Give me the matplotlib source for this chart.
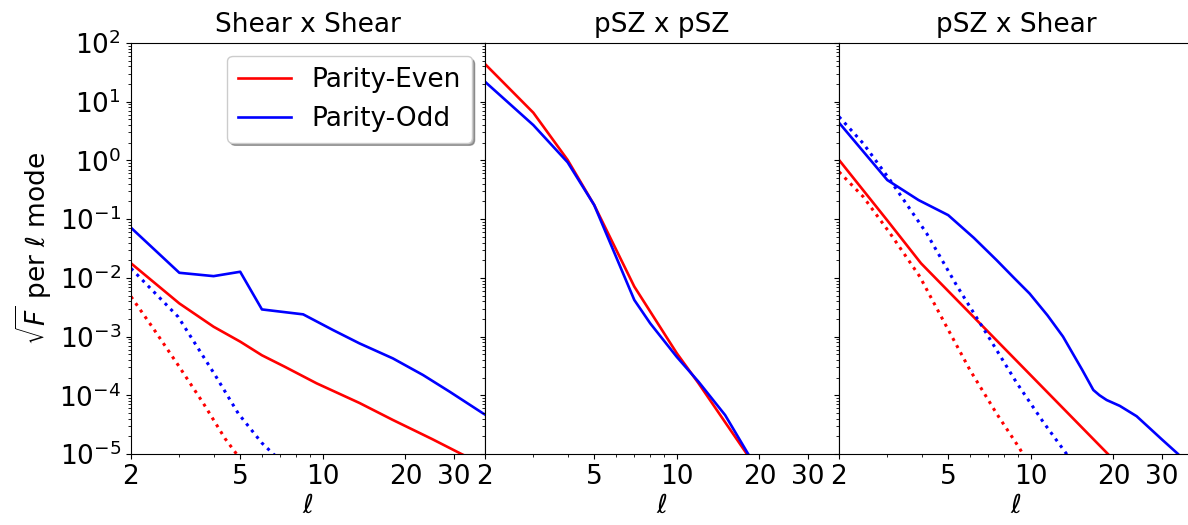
import matplotlib
matplotlib.use("Agg")
import matplotlib.pyplot as plt
from matplotlib.ticker import NullFormatter, FixedLocator, FixedFormatter, LogLocator
import numpy as np

# ---------------- data ----------------
titles = ["Shear x Shear", "pSZ x pSZ", "pSZ x Shear"]
xticks = [2, 5, 10, 20, 30]
xtick_labels = ["2", "5", "10", "20", "30"]

# Panel 1: Shear x Shear
ss_even_l = [2, 3, 4, 5, 6, 7.27, 9.49, 13.6, 18, 25, 32, 40]
ss_even_v = [0.0177, 3.67e-3, 1.47e-3, 8.2e-4, 4.8e-4, 3.06e-4, 1.6e-4, 7.4e-5, 3.8e-5, 1.8e-5, 1.0e-5, 6.0e-6]
ss_odd_l = [2, 3, 4, 5, 6, 8.48, 10.9, 13.6, 18, 23.2, 29, 38.4, 40]
ss_odd_v = [0.0714, 0.0122, 0.0107, 0.0127, 2.9e-3, 2.39e-3, 1.29e-3, 7.66e-4, 4.25e-4, 2.21e-4, 1.15e-4, 4.9e-5, 4.4e-5]
ss_even_dot_l = [2, 2.41, 2.97, 3.67, 4.4, 4.85, 5.2]
ss_even_dot_v = [4.8e-3, 1.38e-3, 3.27e-4, 7.3e-5, 1.84e-5, 1.0e-5, 6.0e-6]
ss_odd_dot_l = [2, 2.97, 4.05, 4.92, 5.99, 6.6, 7.0]
ss_odd_dot_v = [0.0145, 2.17e-3, 2.21e-4, 4.9e-5, 1.55e-5, 1.0e-5, 8.0e-6]

# Panel 2: pSZ x pSZ
pp_even_l = [2, 3, 4, 5, 7, 10, 12, 18, 19]
pp_even_v = [43.9, 6.5, 1.02, 0.174, 7.1e-3, 5.2e-4, 1.6e-4, 1.0e-5, 7.0e-6]
pp_odd_l = [2, 3, 4, 5, 7, 8, 10, 12, 15, 18.2, 19]
pp_odd_v = [21.9, 4.0, 0.93, 0.174, 4.2e-3, 1.68e-3, 4.5e-4, 1.7e-4, 4.6e-5, 1.0e-5, 7.5e-6]

# Panel 3: pSZ x Shear
ps_even_l = [2, 3, 3.98, 19.1, 21]
ps_even_v = [1.02, 0.095, 0.0177, 1.0e-5, 6.3e-6]
ps_odd_l = [2, 3, 3.9, 5, 6.2, 7.5, 8.7, 9.9, 11.5, 13.1, 15.4, 16.9, 17.8, 18.9, 21.1, 24.3, 27, 30, 34.4, 37]
ps_odd_v = [4.39, 0.463, 0.211, 0.117, 0.048, 0.0201, 9.9e-3, 5.4e-3, 2.3e-3, 1.0e-3, 2.7e-4, 1.23e-4, 1.0e-4, 8.3e-5, 6.6e-5, 4.4e-5, 2.8e-5, 1.78e-5, 1.0e-5, 6.8e-6]
ps_even_dot_l = [2, 2.45, 3.07, 3.94, 4.93, 6.0, 7.5, 9.1, 9.6]
ps_even_dot_v = [0.64, 0.241, 0.0573, 0.0105, 1.48e-3, 2.7e-4, 4.9e-5, 1.25e-5, 8.0e-6]
ps_odd_dot_l = [2, 2.45, 3.07, 4.17, 5.37, 6.9, 8.86, 11.1, 13.3, 14.0]
ps_odd_dot_v = [5.56, 1.95, 0.463, 0.0575, 7.4e-3, 1.12e-3, 1.66e-4, 3.5e-5, 1.1e-5, 8.0e-6]

# ---------------- figure ----------------
plt.rcParams['font.family'] = ['DejaVu Sans']
FS = 19
W, H = 1188, 525
fig = plt.figure(figsize=(W / 100, H / 100), dpi=100)

left0, axw = 131, 354
bottom_px, top_px = 454, 43
axes = []
for i in range(3):
    x0 = left0 + i * axw
    ax = fig.add_axes([x0 / W, (H - bottom_px) / H, axw / W, (bottom_px - top_px) / H])
    axes.append(ax)

panels = [
    (ss_even_l, ss_even_v, ss_odd_l, ss_odd_v, ss_even_dot_l, ss_even_dot_v, ss_odd_dot_l, ss_odd_dot_v),
    (pp_even_l, pp_even_v, pp_odd_l, pp_odd_v, None, None, None, None),
    (ps_even_l, ps_even_v, ps_odd_l, ps_odd_v, ps_even_dot_l, ps_even_dot_v, ps_odd_dot_l, ps_odd_dot_v),
]

lw = 1.9
for i, (ax, p) in enumerate(zip(axes, panels)):
    el, ev, ol, ov, edl, edv, odl, odv = p
    ax.plot(el, ev, color='red', lw=lw, label='Parity-Even')
    ax.plot(ol, ov, color='blue', lw=lw, label='Parity-Odd')
    if edl is not None:
        ax.plot(edl, edv, color='red', lw=2.2, ls=':')
        ax.plot(odl, odv, color='blue', lw=2.2, ls=':')
    ax.set_xscale('log')
    ax.set_yscale('log')
    ax.set_xlim(2, 39)
    ax.set_ylim(1e-5, 1e2)
    ax.xaxis.set_major_locator(FixedLocator(xticks))
    ax.xaxis.set_major_formatter(FixedFormatter(xtick_labels))
    ax.xaxis.set_minor_formatter(NullFormatter())
    ax.yaxis.set_major_locator(LogLocator(base=10, numticks=20))
    ax.yaxis.set_minor_locator(LogLocator(base=10, subs=np.arange(2, 10), numticks=20))
    ax.tick_params(axis='both', which='major', labelsize=FS)
    ax.set_title(titles[i], fontsize=FS, pad=8)
    ax.set_xlabel(r'$\ell$', fontsize=FS, labelpad=2)
    if i > 0:
        ax.tick_params(axis='y', which='both', labelleft=False)

axes[0].set_ylabel(r'$\sqrt{F}$ per $\ell$ mode', fontsize=FS)
axes[0].legend(loc='upper right', fontsize=FS, shadow=True, fancybox=True)

fig.savefig('out.png', dpi=100)
